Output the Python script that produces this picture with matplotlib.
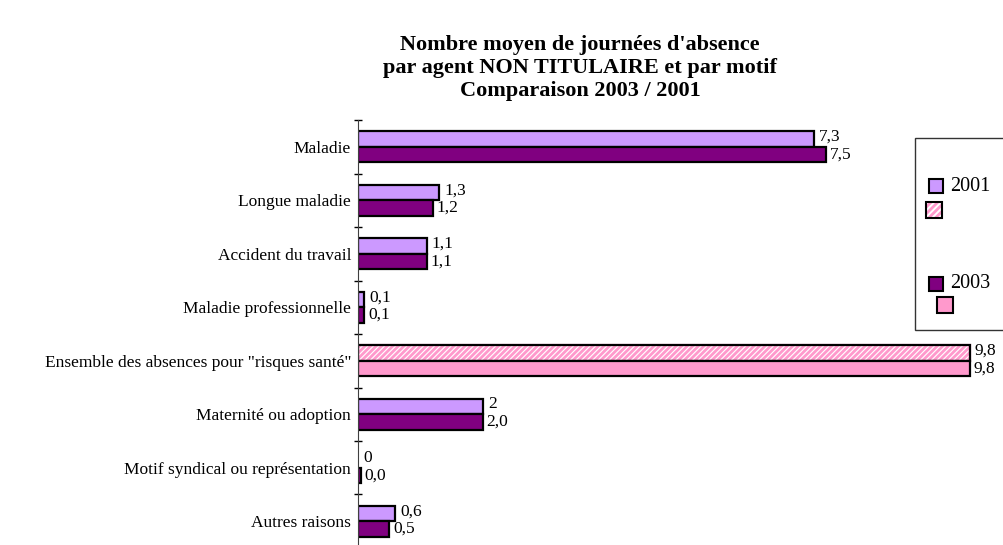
import numpy as np
import matplotlib.pyplot as plt
from matplotlib.patches import Rectangle

plt.rcParams['font.family'] = ['Liberation Serif', 'DejaVu Serif']
plt.rcParams['hatch.linewidth'] = 2.0

categories = ['Maladie', 'Longue maladie', 'Accident du travail', 'Maladie professionnelle',
              'Ensemble des absences pour "risques santé"', 'Maternité ou adoption',
              'Motif syndical ou représentation', 'Autres raisons']
v2001 = [7.3, 1.3, 1.1, 0.1, 9.8, 2.0, 0.0, 0.6]
v2003 = [7.5, 1.2, 1.1, 0.1, 9.8, 2.0, 0.04, 0.5]
lab2001 = ['7,3', '1,3', '1,1', '0,1', '9,8', '2', '0', '0,6']
lab2003 = ['7,5', '1,2', '1,1', '0,1', '9,8', '2,0', '0,0', '0,5']
ensemble_idx = 4

C2001 = '#CC99FF'
C2003 = '#800080'
CPINK = '#FF99CC'

fig = plt.figure(figsize=(10.04, 5.45), dpi=100)
ax = fig.add_axes([0.3566, -0.0055, 0.6215, 0.7853])

y = np.arange(len(categories))
h = 0.29
for i in range(len(categories)):
    if i == ensemble_idx:
        c1, c2, hatch1 = 'white', CPINK, '//////'
    else:
        c1, c2, hatch1 = C2001, C2003, None
    lw1 = 1.6 if v2001[i] > 0 else 0
    b1 = ax.barh(y[i] - h / 2, v2001[i], height=h, color=c1, edgecolor='black',
                 linewidth=lw1, hatch=hatch1)
    if hatch1:
        b1[0].set_edgecolor(CPINK)
        ax.barh(y[i] - h / 2, v2001[i], height=h, color='none', edgecolor='black', linewidth=1.6)
    ax.barh(y[i] + h / 2, v2003[i], height=h, color=c2, edgecolor='black', linewidth=1.6)
    ax.text(v2001[i] + 0.08, y[i] - h / 2 - 0.04, lab2001[i], va='center', ha='left', fontsize=12.5)
    ax.text(v2003[i] + 0.06, y[i] + h / 2 + 0.0, lab2003[i], va='center', ha='left', fontsize=12.5)

ax.set_xlim(0, 10)
ax.set_ylim(len(categories) - 0.5, -0.5)
ax.set_yticks(np.arange(len(categories) + 1) - 0.5)
ax.set_yticklabels([])
ax.set_yticks(y, minor=True)
ax.set_yticklabels(categories, minor=True, fontsize=12.5)
ax.tick_params(axis='y', which='minor', length=0, pad=5)
ax.tick_params(axis='y', which='major', length=6, direction='inout', width=1)
ax.set_xticks([])
for s in ['top', 'right', 'bottom']:
    ax.spines[s].set_visible(False)
ax.spines['left'].set_color('#404040')

fig.suptitle("Nombre moyen de journées d'absence\npar agent NON TITULAIRE et par motif\nComparaison 2003 / 2001",
             x=0.578, y=0.935, fontsize=16, fontweight='bold', linespacing=1.2)

# legend box
fig.patches.append(Rectangle((0.9114, 0.3945), 0.1, 0.3523, transform=fig.transFigure,
                             facecolor='white', edgecolor='#333333', linewidth=1, zorder=5))
fig.patches.append(Rectangle((0.9253, 0.6459), 0.0139, 0.0257, transform=fig.transFigure,
                             facecolor=C2001, edgecolor='black', linewidth=1.5, zorder=6))
fig.patches.append(Rectangle((0.9223, 0.600), 0.0159, 0.0294, transform=fig.transFigure,
                             facecolor='white', edgecolor=CPINK, hatch='/////', linewidth=0, zorder=6))
fig.patches.append(Rectangle((0.9223, 0.600), 0.0159, 0.0294, transform=fig.transFigure,
                             facecolor='none', edgecolor='black', linewidth=1.5, zorder=7))
fig.patches.append(Rectangle((0.9253, 0.466), 0.0139, 0.0257, transform=fig.transFigure,
                             facecolor=C2003, edgecolor='black', linewidth=1.5, zorder=6))
fig.patches.append(Rectangle((0.9333, 0.4257), 0.0159, 0.0294, transform=fig.transFigure,
                             facecolor=CPINK, edgecolor='black', linewidth=1.5, zorder=6))
fig.text(0.946, 0.6587, '2001', fontsize=14.5, va='center', zorder=8)
fig.text(0.946, 0.4807, '2003', fontsize=14.5, va='center', zorder=8)

fig.savefig('out.png', dpi=100)
